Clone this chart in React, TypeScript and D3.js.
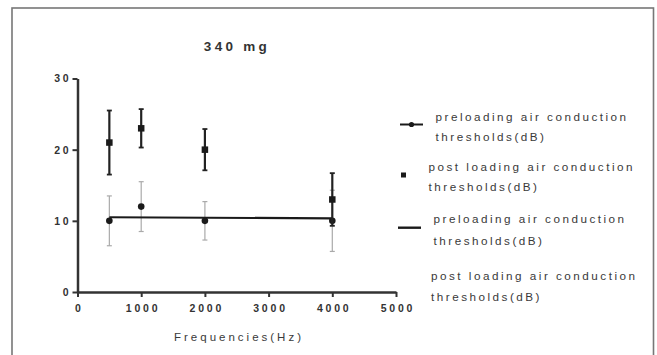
import React, { useEffect, useRef } from "react";
import * as d3 from "d3";

const frequencies = [500, 1000, 2000, 4000];
const preMean = [10, 12, 10, 10];
const preErr = [3.5, 3.5, 2.7, 4.3];
const postMean = [21, 23, 20, 13];
const postErr = [4.5, 2.7, 2.9, 3.7];
const fitX = [500, 4000];
const fitY = [10.5, 10.35];
const xTicks = [0, 1000, 2000, 3000, 4000, 5000];
const yTicks = [0, 10, 20, 30];
const title = "340 mg";
const xLabel = "Frequencies(Hz)";
const legendLines = [
  ["preloading air conduction", "thresholds(dB)"],
  ["post loading air conduction", "thresholds(dB)"],
  ["preloading air conduction", "thresholds(dB)"],
  ["post loading air conduction", "thresholds(dB)"],
];

const W = 657;
const H = 355;
const FONT = "'Liberation Sans', Arial, Helvetica, sans-serif";

export default function App() {
  const ref = useRef<SVGSVGElement | null>(null);

  useEffect(() => {
    const svg = d3.select(ref.current);
    svg.selectAll("*").remove();

    const x = d3.scaleLinear().domain([0, 5000]).range([77.5, 396]);
    const y = d3.scaleLinear().domain([0, 30]).range([292, 78.5]);

    // frame
    svg
      .append("rect")
      .attr("x", 12)
      .attr("y", 8)
      .attr("width", 641.5)
      .attr("height", 360)
      .attr("fill", "none")
      .attr("stroke", "#777")
      .attr("stroke-width", 1.6);

    // title
    svg
      .append("text")
      .attr("x", 237)
      .attr("y", 51)
      .attr("text-anchor", "middle")
      .attr("font-family", FONT)
      .attr("font-size", 13.5)
      .attr("font-weight", "bold")
      .attr("letter-spacing", 3.3)
      .attr("fill", "#333")
      .text(title);

    // axes
    const fmt = d3.format("d");
    const yAxis = svg
      .append("g")
      .attr("transform", `translate(${x(0)},0)`)
      .call(d3.axisLeft(y).tickValues(yTicks).tickFormat(fmt as any).tickSize(5).tickPadding(2).tickSizeOuter(0));
    const xAxis = svg
      .append("g")
      .attr("transform", `translate(0,${y(0)})`)
      .call(d3.axisBottom(x).tickValues(xTicks).tickFormat(fmt as any).tickSize(5).tickPadding(8).tickSizeOuter(0));
    [yAxis, xAxis].forEach((g) => {
      g.select(".domain").attr("stroke", "#333").attr("stroke-width", 2.5);
      g.selectAll(".tick line").attr("stroke", "#333").attr("stroke-width", 2);
      g.selectAll(".tick text")
        .attr("font-family", FONT)
        .attr("font-size", 10.5)
        .attr("font-weight", "bold")
        .attr("letter-spacing", 2.8)
        .attr("fill", "#333");
    });
    xAxis.selectAll(".tick text").attr("dx", 1.4);
    yAxis.selectAll(".tick text").attr("dx", 1);

    // x label
    svg
      .append("text")
      .attr("x", 239)
      .attr("y", 341)
      .attr("text-anchor", "middle")
      .attr("font-family", FONT)
      .attr("font-size", 11.5)
      .attr("letter-spacing", 3)
      .attr("fill", "#3a3a3a")
      .text(xLabel);

    const cap = 2.5;
    // pre error bars (gray, thin)
    const preG = svg.append("g");
    frequencies.forEach((f, i) => {
      const cx = x(f);
      const lo = y(preMean[i] - preErr[i]);
      const hi = y(preMean[i] + preErr[i]);
      preG.append("line").attr("x1", cx).attr("x2", cx).attr("y1", lo).attr("y2", hi).attr("stroke", "#aaa").attr("stroke-width", 1.2);
      [lo, hi].forEach((yy) =>
        preG.append("line").attr("x1", cx - cap).attr("x2", cx + cap).attr("y1", yy).attr("y2", yy).attr("stroke", "#aaa").attr("stroke-width", 1.2)
      );
    });
    // pre points
    svg
      .append("g")
      .selectAll("circle")
      .data(frequencies)
      .join("circle")
      .attr("cx", (d) => x(d))
      .attr("cy", (d, i) => y(preMean[i]))
      .attr("r", 3.3)
      .attr("fill", "#1a1a1a");

    // fit line
    const line = d3
      .line<number>()
      .x((d) => x(d))
      .y((d, i) => y(fitY[i]));
    svg
      .append("path")
      .attr("d", line(fitX) || "")
      .attr("fill", "none")
      .attr("stroke", "#1a1a1a")
      .attr("stroke-width", 2.2);

    // post error bars (dark, thick)
    const postG = svg.append("g");
    frequencies.forEach((f, i) => {
      const cx = x(f);
      const lo = y(postMean[i] - postErr[i]);
      const hi = y(postMean[i] + postErr[i]);
      postG.append("line").attr("x1", cx).attr("x2", cx).attr("y1", lo).attr("y2", hi).attr("stroke", "#222").attr("stroke-width", 2.2);
      [lo, hi].forEach((yy) =>
        postG.append("line").attr("x1", cx - cap).attr("x2", cx + cap).attr("y1", yy).attr("y2", yy).attr("stroke", "#222").attr("stroke-width", 1.8)
      );
    });
    const sq = 6.5;
    svg
      .append("g")
      .selectAll("rect")
      .data(frequencies)
      .join("rect")
      .attr("x", (d) => x(d) - sq / 2)
      .attr("y", (d, i) => y(postMean[i]) - sq / 2)
      .attr("width", sq)
      .attr("height", sq)
      .attr("fill", "#1a1a1a");

    // legend
    const leg = svg.append("g");
    leg.append("line").attr("x1", 400).attr("x2", 423).attr("y1", 124.5).attr("y2", 124.5).attr("stroke", "#1a1a1a").attr("stroke-width", 2);
    leg.append("circle").attr("cx", 411.5).attr("cy", 124.5).attr("r", 2.6).attr("fill", "#1a1a1a");
    leg.append("rect").attr("x", 401).attr("y", 172.5).attr("width", 5).attr("height", 5).attr("fill", "#1a1a1a");
    leg.append("line").attr("x1", 398).attr("x2", 421).attr("y1", 227.7).attr("y2", 227.7).attr("stroke", "#1a1a1a").attr("stroke-width", 2.4);

    const legTextX = [435.5, 428.5, 433.5, 431];
    const legTextY = [
      [116.7, 136.7],
      [166.7, 187.3],
      [219.3, 240.7],
      [275.7, 296.7],
    ];
    legendLines.forEach((lines, i) => {
      lines.forEach((t, j) => {
        leg
          .append("text")
          .attr("x", legTextX[i])
          .attr("y", legTextY[i][j] + 4)
          .attr("font-family", FONT)
          .attr("font-size", 11.7)
          .attr("letter-spacing", 2.5)
          .attr("fill", "#3a3a3a")
          .text(t);
      });
    });
  }, []);

  return (
    <svg
      ref={ref}
      width={W}
      height={H}
      style={{ position: "absolute", left: 0, top: 0, background: "#fff", display: "block" }}
    />
  );
}
